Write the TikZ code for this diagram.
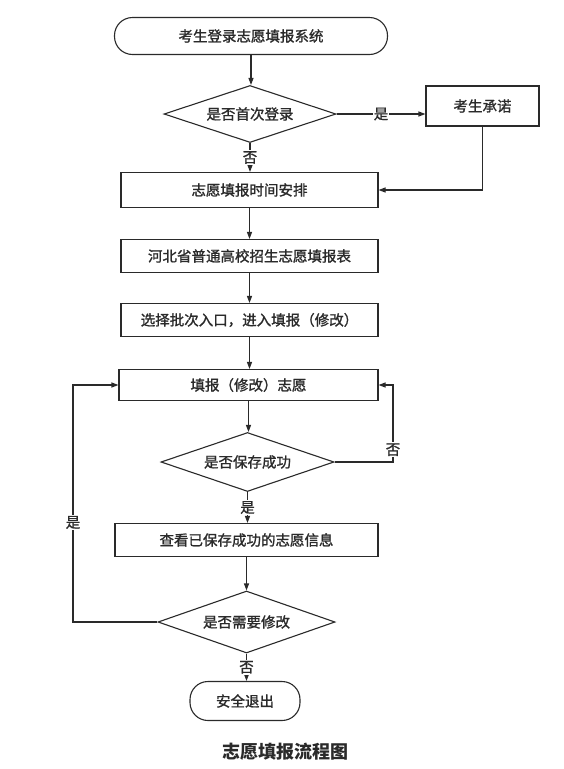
\documentclass[tikz,border=0pt]{standalone}
\usepackage{fontspec}
\setmainfont{Noto Sans CJK SC}
\newfontfamily\cjkm[FakeBold=1.2]{Noto Sans CJK SC}
\usetikzlibrary{shapes.geometric,arrows.meta}
\definecolor{ink}{HTML}{2A2A2A}
\begin{document}
\begin{tikzpicture}[x=1pt,y=-1pt,
  every node/.style={font=\cjkm\fontsize{14.5}{16}\selectfont, text=ink},
  boxnode/.style={draw=ink, line width=1.1pt, rectangle, inner sep=0pt},
  termnode/.style={draw=ink, line width=1.1pt, rectangle, rounded corners=18pt, inner sep=0pt},
  decnode/.style={draw=ink, line width=1.1pt, diamond, aspect=3, inner sep=0pt},
  conn/.style={draw=ink, line width=1.1pt, -{Triangle[length=7pt,width=5pt]}},
  lbl/.style={fill=white, inner sep=1pt}
]
\useasboundingbox (0,0) rectangle (564,769);
\fill[white] (0,0) rectangle (564,769);

\node[termnode, minimum width=273pt, minimum height=37pt] (start) at (251,36) {考生登录志愿填报系统};
\node[decnode, minimum width=172pt, minimum height=57pt] (d1) at (250,114) {是否首次登录};
\node[boxnode, minimum width=113pt, minimum height=40pt] (p) at (482.5,106) {考生承诺};
\node[boxnode, minimum width=257pt, minimum height=35pt] (b1) at (249.5,190) {志愿填报时间安排};
\node[boxnode, minimum width=257pt, minimum height=33pt] (b2) at (249.5,256) {河北省普通高校招生志愿填报表};
\node[boxnode, minimum width=257pt, minimum height=33pt] (b3) at (249.5,320) {选择批次入口，进入填报（修改）};
\node[boxnode, minimum width=259pt, minimum height=31pt] (b4) at (248.5,385) {填报（修改）志愿};
\node[decnode, minimum width=173pt, minimum height=59pt] (d2) at (247.5,462) {是否保存成功};
\node[boxnode, minimum width=263pt, minimum height=33pt] (b5) at (246.5,540) {查看已保存成功的志愿信息};
\node[decnode, minimum width=177pt, minimum height=62pt] (d3) at (246.5,622) {是否需要修改};
\node[termnode, minimum width=110pt, minimum height=39pt] (end) at (245,701) {安全退出};
\node[font=\fontsize{18}{20}\selectfont\bfseries] (cap) at (285,752) {志愿填报流程图};

\coordinate (r) at (393,462);
\coordinate (l) at (73,622);

\draw[conn] (start.south) -- (start.south |- d1.north);
\draw[conn] (d1.east) -- node[lbl]{是} (d1.east -| p.west);
\draw[conn] (d1.south) -- node[lbl]{否} (d1.south |- b1.north);
\draw[conn] (p.south) |- (b1.east);
\draw[conn] (b1.south) -- (b1.south |- b2.north);
\draw[conn] (b2.south) -- (b2.south |- b3.north);
\draw[conn] (b3.south) -- (b3.south |- b4.north);
\draw[conn] (b4.south) -- (b4.south |- d2.north);
\draw[conn] (d2.east) -- (r) |- node[pos=0.08,lbl]{否} (b4.east);
\draw[conn] (d2.south) -- node[lbl]{是} (d2.south |- b5.north);
\draw[conn] (b5.south) -- (b5.south |- d3.north);
\draw[conn] (d3.west) -- (l) |- node[pos=0.21,lbl]{是} (b4.west);
\draw[conn] (d3.south) -- node[lbl]{否} (d3.south |- end.north);
\end{tikzpicture}
\end{document}
